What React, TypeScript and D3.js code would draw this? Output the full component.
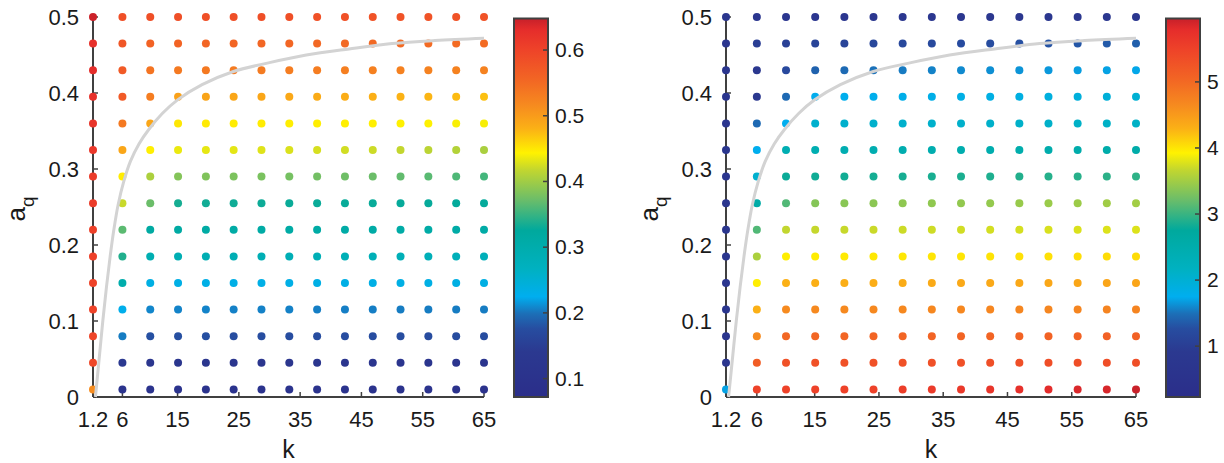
import React from "react";
import * as d3 from "d3";

// grid of the parameter sweep
const kValues = [1.2, 6, 10.54, 15.08, 19.62, 24.15, 28.69, 33.23, 37.77, 42.31, 46.85, 51.38, 55.92, 60.46, 65];
const aValues = [0.5, 0.465, 0.43, 0.395, 0.36, 0.325, 0.29, 0.255, 0.22, 0.185, 0.15, 0.115, 0.08, 0.045, 0.01];

// rows follow aValues (top to bottom), columns follow kValues
const leftValues = [
  [0.645, 0.585, 0.585, 0.585, 0.585, 0.585, 0.585, 0.585, 0.582, 0.582, 0.58, 0.58, 0.58, 0.58, 0.58],
  [0.625, 0.575, 0.56, 0.558, 0.556, 0.556, 0.555, 0.555, 0.553, 0.552, 0.552, 0.551, 0.55, 0.55, 0.55],
  [0.63, 0.57, 0.54, 0.535, 0.535, 0.533, 0.532, 0.53, 0.53, 0.528, 0.527, 0.526, 0.525, 0.525, 0.525],
  [0.625, 0.57, 0.53, 0.495, 0.492, 0.49, 0.49, 0.488, 0.486, 0.484, 0.482, 0.48, 0.478, 0.475, 0.472],
  [0.62, 0.535, 0.49, 0.45, 0.448, 0.447, 0.447, 0.446, 0.446, 0.445, 0.445, 0.444, 0.443, 0.441, 0.44],
  [0.615, 0.49, 0.445, 0.435, 0.433, 0.432, 0.43, 0.428, 0.426, 0.424, 0.422, 0.418, 0.414, 0.41, 0.405],
  [0.61, 0.447, 0.406, 0.385, 0.383, 0.381, 0.38, 0.378, 0.376, 0.374, 0.372, 0.368, 0.364, 0.36, 0.355],
  [0.61, 0.42, 0.372, 0.335, 0.333, 0.332, 0.331, 0.33, 0.33, 0.329, 0.329, 0.328, 0.328, 0.327, 0.327],
  [0.605, 0.365, 0.318, 0.315, 0.314, 0.313, 0.313, 0.312, 0.312, 0.311, 0.311, 0.31, 0.31, 0.31, 0.31],
  [0.605, 0.34, 0.292, 0.29, 0.289, 0.288, 0.287, 0.286, 0.285, 0.284, 0.283, 0.282, 0.281, 0.28, 0.28],
  [0.6, 0.3, 0.236, 0.234, 0.233, 0.233, 0.233, 0.233, 0.234, 0.234, 0.234, 0.235, 0.235, 0.236, 0.236],
  [0.6, 0.228, 0.208, 0.207, 0.207, 0.206, 0.206, 0.206, 0.205, 0.205, 0.205, 0.204, 0.204, 0.204, 0.204],
  [0.598, 0.204, 0.178, 0.177, 0.177, 0.176, 0.176, 0.176, 0.175, 0.175, 0.175, 0.175, 0.174, 0.174, 0.174],
  [0.595, 0.14, 0.122, 0.121, 0.121, 0.12, 0.12, 0.12, 0.12, 0.119, 0.119, 0.119, 0.118, 0.118, 0.118],
  [0.515, 0.11, 0.105, 0.104, 0.104, 0.103, 0.103, 0.103, 0.102, 0.102, 0.102, 0.101, 0.101, 0.1, 0.1],
];

const rightValues = [
  [0.7, 0.75, 0.75, 0.76, 0.76, 0.77, 0.77, 0.78, 0.78, 0.79, 0.79, 0.8, 0.8, 0.8, 0.8],
  [0.7, 1.0, 1.05, 1.1, 1.12, 1.15, 1.18, 1.2, 1.23, 1.25, 1.28, 1.3, 1.32, 1.35, 1.38],
  [0.7, 0.85, 1.2, 1.4, 1.46, 1.5, 1.54, 1.57, 1.6, 1.62, 1.64, 1.66, 1.68, 1.7, 1.72],
  [0.7, 0.85, 1.45, 1.74, 1.77, 1.78, 1.8, 1.82, 1.84, 1.86, 1.88, 1.9, 1.93, 1.96, 2.0],
  [0.7, 1.45, 1.75, 2.05, 2.06, 2.07, 2.07, 2.08, 2.08, 2.09, 2.1, 2.1, 2.11, 2.12, 2.12],
  [0.7, 1.76, 2.4, 2.42, 2.43, 2.44, 2.45, 2.46, 2.47, 2.48, 2.5, 2.51, 2.52, 2.54, 2.55],
  [0.7, 2.05, 2.8, 2.82, 2.83, 2.84, 2.85, 2.86, 2.87, 2.88, 2.9, 2.91, 2.92, 2.94, 2.95],
  [0.7, 2.6, 3.1, 3.35, 3.37, 3.38, 3.4, 3.41, 3.42, 3.43, 3.45, 3.46, 3.47, 3.49, 3.5],
  [0.7, 3.1, 3.67, 3.68, 3.69, 3.7, 3.71, 3.72, 3.73, 3.74, 3.75, 3.76, 3.77, 3.78, 3.78],
  [0.7, 3.55, 3.95, 3.96, 3.97, 3.98, 3.99, 4.0, 4.0, 4.01, 4.02, 4.03, 4.04, 4.05, 4.05],
  [0.7, 3.95, 4.3, 4.31, 4.32, 4.33, 4.34, 4.35, 4.36, 4.36, 4.37, 4.38, 4.39, 4.4, 4.4],
  [0.7, 4.3, 4.65, 4.66, 4.66, 4.67, 4.67, 4.68, 4.68, 4.69, 4.7, 4.7, 4.71, 4.72, 4.72],
  [0.7, 4.65, 5.02, 5.03, 5.03, 5.04, 5.04, 5.05, 5.06, 5.06, 5.07, 5.08, 5.08, 5.09, 5.1],
  [0.7, 5.15, 5.3, 5.3, 5.3, 5.31, 5.31, 5.32, 5.32, 5.33, 5.33, 5.34, 5.34, 5.35, 5.35],
  [1.7, 5.5, 5.5, 5.5, 5.5, 5.5, 5.55, 5.6, 5.62, 5.68, 5.75, 5.8, 5.85, 5.87, 5.95],
];

// grey boundary curve
const curveK = [1.6, 2.2, 2.8, 3.4, 4.0, 4.6, 5.3, 6.2, 7.3, 8.7, 10.3, 12.5, 15, 19, 24, 30, 36, 43, 50, 57, 65];
const curveA = [0, 0.05, 0.1, 0.145, 0.185, 0.22, 0.253, 0.283, 0.31, 0.333, 0.352, 0.373, 0.391, 0.411, 0.428, 0.44, 0.45, 0.458, 0.465, 0.469, 0.472];

const xTicks = [1.2, 6, 15, 25, 35, 45, 55, 65];
const yTicks = [0, 0.1, 0.2, 0.3, 0.4, 0.5];
const leftBarTicks = [0.1, 0.2, 0.3, 0.4, 0.5, 0.6];
const rightBarTicks = [1, 2, 3, 4, 5];

// colormap
const cmapStops = [0, 0.12, 0.18, 0.22, 0.265, 0.34, 0.44, 0.52, 0.6, 0.645, 0.71, 0.77, 0.84, 0.92, 0.97, 1];
const cmapColors = ["#2b2e8a", "#2b3990", "#274da0", "#1c6fb7", "#00aeef", "#00b1c0", "#00a99d", "#6abd6a",
  "#c2d62f", "#fff200", "#fbb016", "#f68b1f", "#f26524", "#ee4229", "#e52d2b", "#c7202a"];
const cmap = d3.scaleLinear<string>().domain(cmapStops).range(cmapColors).interpolate(d3.interpolateRgb).clamp(true);

const FONT = "'Liberation Sans', Arial, Helvetica, sans-serif";
const AX = "#404040";
const TOP = 17;
const BOTTOM = 397;

type PanelProps = {
  id: string;
  left: number;
  right: number;
  values: number[][];
  barX: number;
  barDomain: [number, number];
  barTicks: number[];
  barFmt: (v: number) => string;
};

const Panel = ({ id, left, right, values, barX, barDomain, barTicks, barFmt }: PanelProps) => {
  const x = d3.scaleLinear().domain([1.2, 65]).range([left, right]);
  const y = d3.scaleLinear().domain([0, 0.5]).range([BOTTOM, TOP]);
  const cb = d3.scaleLinear().domain(barDomain).range([BOTTOM, 18.5]);
  const toT = d3.scaleLinear().domain(barDomain).range([0, 1]);
  const line = d3
    .line<number>()
    .x((_, i) => x(curveK[i]))
    .y((d) => y(d))
    .curve(d3.curveCatmullRom.alpha(0.5));
  const barW = 34;

  return (
    <g>
      <defs>
        <linearGradient id={id} x1="0" y1="1" x2="0" y2="0">
          {cmapStops.map((s, i) => (
            <stop key={i} offset={s} stopColor={cmapColors[i]} />
          ))}
        </linearGradient>
      </defs>

      {/* axes */}
      <line x1={left} x2={left} y1={TOP - 2} y2={BOTTOM} stroke={AX} strokeWidth={2} />
      <line x1={left} x2={right} y1={BOTTOM} y2={BOTTOM} stroke={AX} strokeWidth={2} />
      {yTicks.map((t) => (
        <g key={"y" + t}>
          <line x1={left} x2={left + 5} y1={y(t)} y2={y(t)} stroke={AX} strokeWidth={1.5} />
          <text x={left - 14} y={y(t) + 8} textAnchor="end" fontSize={22} fontFamily={FONT} fill="#1a1a1a">
            {t === 0 ? "0" : t.toFixed(1)}
          </text>
        </g>
      ))}
      {xTicks.map((t) => (
        <g key={"x" + t}>
          <line x1={x(t)} x2={x(t)} y1={BOTTOM} y2={BOTTOM - 5} stroke={AX} strokeWidth={1.5} />
          <text x={x(t)} y={427} textAnchor="middle" fontSize={22} fontFamily={FONT} fill="#1a1a1a">
            {t}
          </text>
        </g>
      ))}
      <text x={(left + right) / 2} y={458} textAnchor="middle" fontSize={25} fontFamily={FONT} fill="#1a1a1a">
        k
      </text>
      <text
        transform={`translate(${left - 68},${(TOP + BOTTOM) / 2 + 2}) rotate(-90)`}
        textAnchor="middle"
        fontSize={26}
        fontFamily={FONT}
        fill="#1a1a1a"
      >
        a<tspan fontSize={19} dy={9}>q</tspan>
      </text>

      {/* dots */}
      {values.map((row, r) =>
        row.map((v, c) => (
          <circle key={r + "-" + c} cx={x(kValues[c])} cy={y(aValues[r])} r={4} fill={cmap(toT(v))} />
        ))
      )}

      {/* curve */}
      <path d={line(curveA) || ""} fill="none" stroke="#d3d3d3" strokeWidth={3} />

      {/* colorbar */}
      <rect x={barX} y={18.5} width={barW} height={BOTTOM - 18.5} fill={`url(#${id})`} stroke={AX} strokeWidth={2} />
      {barTicks.map((t) => (
        <g key={"c" + t}>
          <line x1={barX + barW - 5} x2={barX + barW} y1={cb(t)} y2={cb(t)} stroke={AX} strokeWidth={1.5} />
          <text x={barX + barW + 7} y={cb(t) + 7} fontSize={21} fontFamily={FONT} fill="#1a1a1a">
            {barFmt(t)}
          </text>
        </g>
      ))}
    </g>
  );
};

export default function App() {
  return (
    <svg
      width={1224}
      height={463}
      style={{ position: "absolute", left: 0, top: 0, background: "#fff" }}
    >
      <rect width={1224} height={463} fill="#fff" />
      <Panel
        id="gradL"
        left={93}
        right={484}
        values={leftValues}
        barX={514}
        barDomain={[0.072, 0.648]}
        barTicks={leftBarTicks}
        barFmt={(v) => v.toFixed(1)}
      />
      <Panel
        id="gradR"
        left={726}
        right={1136}
        values={rightValues}
        barX={1166}
        barDomain={[0.23, 5.96]}
        barTicks={rightBarTicks}
        barFmt={(v) => String(v)}
      />
    </svg>
  );
}
